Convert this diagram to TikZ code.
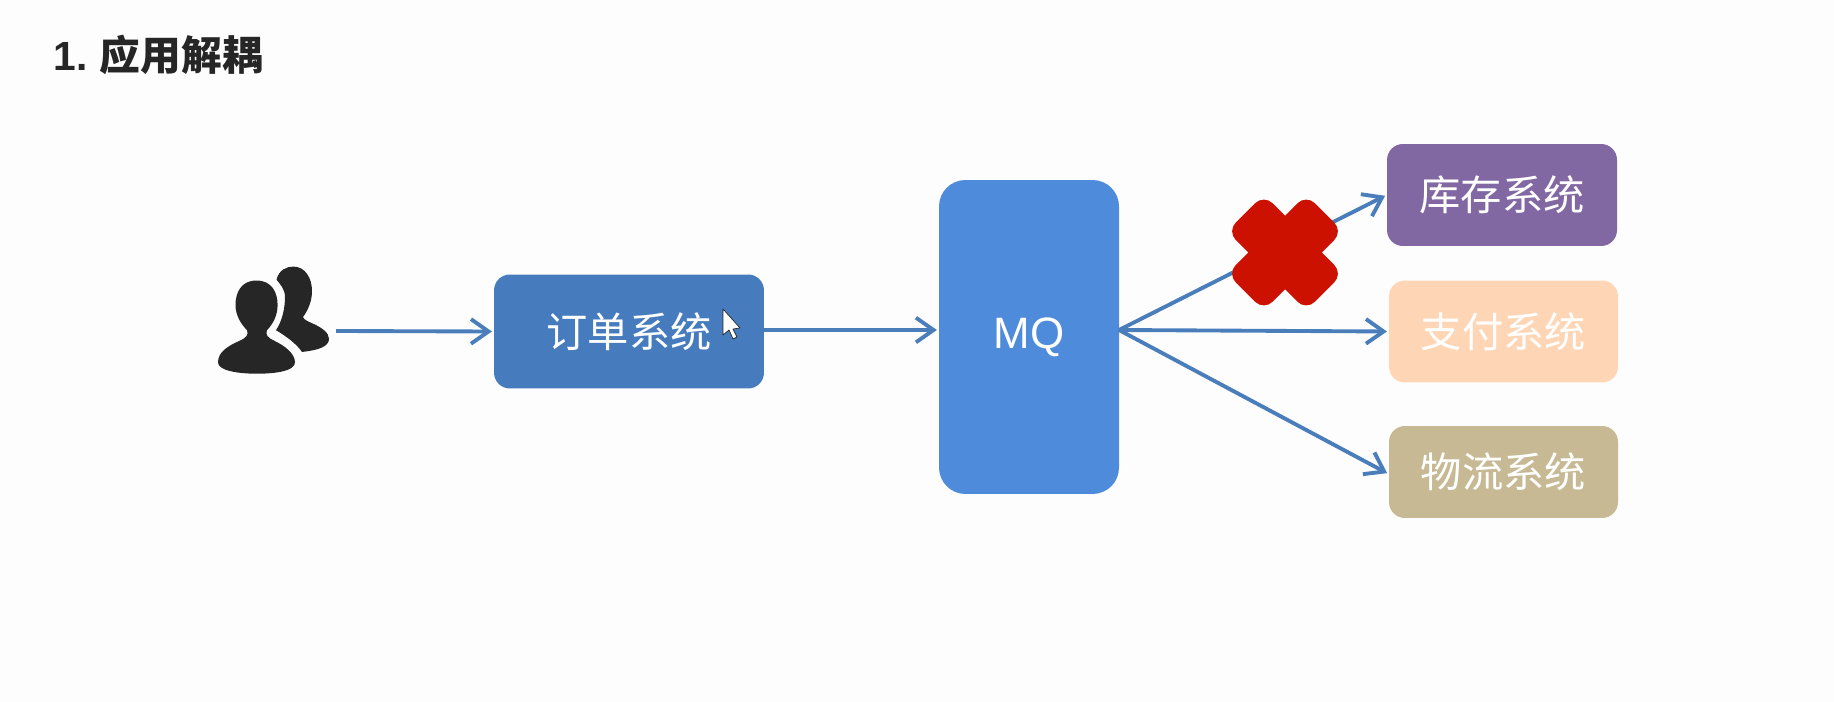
\documentclass[tikz,border=0pt]{standalone}
\usepackage{fontspec}
\setmainfont{Noto Sans CJK SC}
\newfontfamily\latinfont{Liberation Sans}
\usetikzlibrary{arrows.meta,calc}

\definecolor{pagebg}{HTML}{FDFDFD}
\definecolor{arrowblue}{HTML}{4A7EBB}
\definecolor{orderblue}{HTML}{467CBE}
\definecolor{mqblue}{HTML}{4F8BDB}
\definecolor{stockpurple}{HTML}{8268A3}
\definecolor{paypeach}{HTML}{FFD6B5}
\definecolor{shiptan}{HTML}{C6B994}
\definecolor{crossred}{HTML}{CC1100}
\definecolor{usergray}{HTML}{262626}

\tikzset{
    sysbox/.style={rounded corners=9pt, text=white, inner sep=0pt, font=\fontsize{23.5}{26}\selectfont},
    flow/.style={-{Straight Barb[length=10pt, width=14pt, line width=2.2pt]}, arrowblue, line width=2.2pt, shorten >=1pt},
    usericon/.style={usergray, shift={(0,29.67)}, yscale=0.871},
}

\begin{document}
\begin{tikzpicture}[x=0.02cm, y=-0.02cm]

    % Page
    \fill[pagebg] (0,0) rectangle (1834,702);
    \useasboundingbox (0,0) rectangle (1834,702);

    % Title
    \node[anchor=west, inner sep=0pt, text=usergray, font=\fontsize{23.2}{26}\selectfont\bfseries] (title) at (53,55) {{\latinfont 1.} 应用解耦};

    % Users, back one first
    \fill[usericon] (276.5,287) .. controls (279,276) and (286,272) .. (293.5,272)
        .. controls (305,272) and (312,285) .. (312,300)
        .. controls (312,312) and (308,322) .. (303,330)
        .. controls (304,333) and (308,335) .. (312,337)
        .. controls (322,342) and (329,348) .. (329,355)
        .. controls (329,364) and (318,368) .. (302,370)
        .. controls (296,360) and (286,352) .. (276,345)
        .. controls (282,335) and (285,320) .. (285,307)
        .. controls (285,298) and (280,292) .. (276.5,287) -- cycle;
    \fill[usericon] (256.5,288) .. controls (241,288) and (235.5,302) .. (235.5,316)
        .. controls (235.5,328) and (241,338) .. (247,345)
        .. controls (249,350) and (246,354) .. (240,357)
        .. controls (228,363) and (218,370) .. (218,382)
        .. controls (218,392) and (240,395) .. (257,395)
        .. controls (275,395) and (295,392) .. (295,382)
        .. controls (295,372) and (285,363) .. (274,357)
        .. controls (268,354) and (265,350) .. (267,345)
        .. controls (273,338) and (277.6,328) .. (277.6,316)
        .. controls (277.6,302) and (272,288) .. (256.5,288) -- cycle;
    \coordinate (users) at (336,331);

    % Systems
    \node[sysbox, fill=orderblue, minimum width=5.4cm, minimum height=2.28cm] (order) at (629,331.5) {\raisebox{-1.5pt}{订单系统}};
    \node[sysbox, fill=mqblue, rounded corners=15pt, minimum width=3.6cm, minimum height=6.28cm] (mq) at (1029,337) {\latinfont\fontsize{25}{26}\selectfont MQ};
    \node[sysbox, fill=stockpurple, minimum width=4.6cm, minimum height=2.04cm] (stock) at (1502,195) {\raisebox{-1.5pt}{库存系统}};
    \node[sysbox, fill=paypeach, minimum width=4.58cm, minimum height=2.04cm] (pay) at (1503.5,331.5) {\raisebox{-1pt}{支付系统}};
    \node[sysbox, fill=shiptan, minimum width=4.58cm, minimum height=1.84cm] (ship) at (1503.5,472) {\raisebox{-1pt}{物流系统}};

    % Arrows
    \coordinate (fan) at (1119,330);
    \draw[flow] (users) -- (order.west);
    \draw[flow] (order.east |- fan) -- (mq.west |- fan);
    \draw[flow] (fan) -- (stock.west);
    \draw[flow] (fan) -- (pay.west);
    \draw[flow] (fan) -- ($(ship.west)+(0,2)$);

    % Cross on the broken link
    \fill[crossred, rounded corners=7pt, shift={(1285,252.5)}, rotate=45]
        (-56,-26) rectangle (56,26)
        (-26,-56) rectangle (26,56);

    % Mouse pointer
    \filldraw[white, draw=usergray, line width=0.4pt, line join=round]
        (723,309) -- (723,335) -- (729,330) -- (733,339) -- (737,337) -- (733,329) -- (740,328) -- cycle;

\end{tikzpicture}
\end{document}
